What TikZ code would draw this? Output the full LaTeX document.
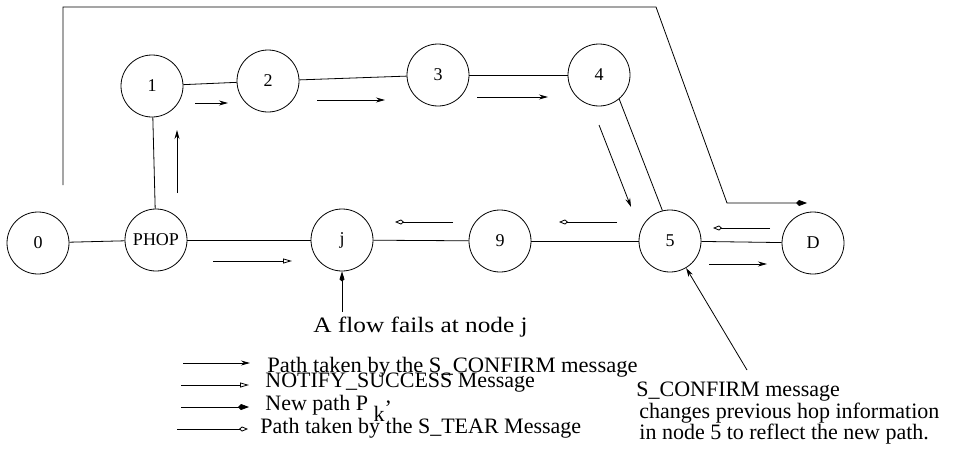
\documentclass[tikz,border=0pt]{standalone}
\usepackage{fontspec}
\setmainfont{Liberation Serif}
\usetikzlibrary{arrows.meta}

\begin{document}
\begin{tikzpicture}[x=1pt, y=-1pt, line width=.8pt,
	hop/.style={draw, circle, minimum size=62pt, inner sep=0pt, font=\fontsize{18}{18}\selectfont},
	txt/.style={font=\fontsize{22}{22}\selectfont, inner sep=0pt, anchor=base west},
	conf/.style={-{Stealth[length=9pt, width=5pt]}},
	notify/.style={-{Triangle[open, length=9pt, width=5pt]}},
	newpath/.style={-{Kite[length=11pt, width=6pt, inset=3pt]}},
	tear/.style={-{Kite[open, length=9pt, width=5pt, inset=3pt]}}]
	\useasboundingbox (0,0) rectangle (957,455);
	% \coordinate () at ();
	\node[hop] (n0) at (38,243) {0};
	\node[hop] (phop) at (156,240) {PHOP};
	\node[hop] (nj) at (342,240) {j};
	\node[hop] (n9) at (500,241) {9};
	\node[hop] (n5) at (670,241) {5};
	\node[hop] (nD) at (813,243) {D};
	\node[hop] (n1) at (152,86) {1};
	\node[hop] (n2) at (268,81) {2};
	\node[hop] (n3) at (438,75) {3};
	\node[hop] (n4) at (599,75) {4};

	\draw (n0) -- (phop);
	\draw (phop) -- (nj);
	\draw (nj) -- (n9);
	\draw (n9) -- (n5);
	\draw (n5) -- (nD);
	\draw (n1) -- (phop);
	\draw (n1) -- (n2);
	\draw (n2) -- (n3);
	\draw (n3) -- (n4);
	\draw (n4.-50) -- (n5.104);

	% new path
	\coordinate (fstart) at (63,185);
	\coordinate (fend) at (807,203);
	\draw[newpath] (fstart) -- (63,7) -- (656,7) -- (727,203) -- (fend);

	% messages
	\draw[conf] (177,193) -- (177,130);
	\draw[conf] (195,103) -- (228,103);
	\draw[conf] (317,100) -- (385,100);
	\draw[conf] (477,97) -- (548,97);
	\draw[conf] (599,125) -- (631,207);
	\draw[conf] (709,264) -- (767,264);
	\draw[notify] (213,261) -- (292,261);
	\draw[tear] (770,228) -- (713,228);
	\draw[tear] (617,222) -- (559,222);
	\draw[tear] (453,222) -- (395,222);

	% notes
	\coordinate (fail) at (342,312);
	\draw[-{Kite[length=10pt, width=5pt, inset=2pt]}] (fail) -- (nj);
	\node[txt] (failtxt) at (313,332) {\scalebox{1.15}[1]{A flow fails at node j}};
	\coordinate (note) at (747,370);
	\draw[conf] (note) -- (n5);
	\node[txt, align=left, font=\fontsize{22}{17}\selectfont, anchor=north west] (notetxt) at (639,382)
		{\hspace*{-3pt}S\_CONFIRM message\\changes previous hop information\\in node 5 to reflect the new path.};

	% legend
	\draw[conf] (183,363) -- (250,363);
	\node[txt] (lconf) at (267,372) {\scalebox{1.025}[1]{Path taken by the S\_CONFIRM message}};
	\draw[notify] (181,385) -- (249,385);
	\node[txt] (lnotify) at (265,387) {NOTIFY\_SUCCESS Message};
	\draw[newpath] (181,407) -- (249,407);
	\node[txt] (lnew) at (265,410) {New path P \raisebox{-11pt}{k}\raisebox{-5pt}{'}};
	\draw[tear] (177,429) -- (248,429);
	\node[txt] (ltear) at (260,433) {Path taken by the S\_TEAR Message};
\end{tikzpicture}
\end{document}
